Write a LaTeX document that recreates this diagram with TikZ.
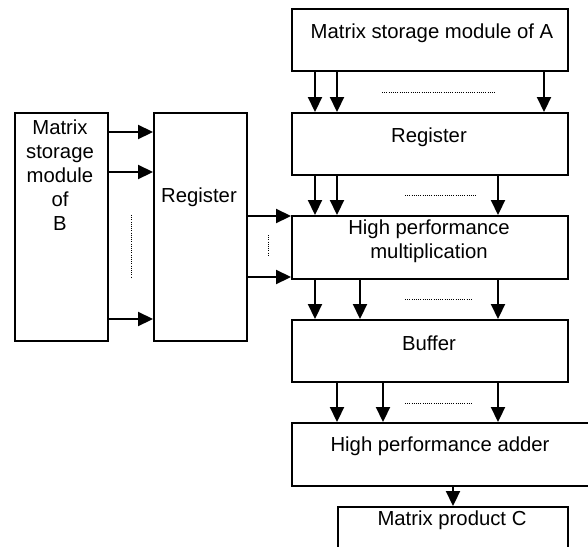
\documentclass[tikz,border=0pt]{standalone}
\usepackage{fontspec}
\setmainfont{Liberation Sans}
\usetikzlibrary{arrows.meta}
\begin{document}
\begin{tikzpicture}[x=1pt,y=-1pt,
  box/.style={draw=black,line width=1.6pt,rectangle,anchor=north west,inner sep=0pt},
  txt/.style={font=\fontsize{20.3}{24}\selectfont,align=center,inner sep=0pt},
  arr/.style={line width=2.2pt,-{Triangle[length=15pt,width=14pt]}},
  dots/.style={line width=1.1pt,dash pattern=on 1pt off 1.2pt}]
\useasboundingbox[fill=white] (0,0) rectangle (588,546);
% right column
\node[box,minimum width=276pt,minimum height=62pt] (A) at (291,8) {};
\node[txt] (At) at (432,33) {Matrix storage module of A};
\node[box,minimum width=276pt,minimum height=62pt] (R1) at (291,112) {};
\node[txt] (R1t) at (429,137) {Register};
\node[box,minimum width=276pt,minimum height=63pt] (M) at (291,215) {};
\node[txt,fill=white,inner ysep=1pt] (Mt) at (429,241) {High performance\\multiplication};
\node[box,minimum width=276pt,minimum height=62pt] (Bu) at (291,319) {};
\node[txt] (Bt) at (429,343) {Buffer};
\node[box,minimum width=320pt,minimum height=63pt] (Ad) at (291,422) {};
\node[txt] (Adt) at (440,446) {High performance adder};
\node[box,minimum width=230pt,minimum height=60pt] (C) at (337,506) {};
\node[txt] (Ct) at (452,520) {Matrix product C};
% left column
\node[box,minimum width=93pt,minimum height=228pt] (B) at (14,112) {};
\node[txt] (Btx) at (60,175) {Matrix\\storage\\module\\of\\B};
\node[box,minimum width=93pt,minimum height=228pt] (R2) at (153,112) {};
\node[txt] (R2t) at (199,197) {Register};
% A -> R1
\foreach \dx in {24,46,253}
  \draw[arr] ([xshift=\dx pt]A.south west) -- ([xshift=\dx pt]R1.north west);
\draw[dots] ([xshift=91pt,yshift=-21pt]A.south west) -- ([xshift=204pt,yshift=-21pt]A.south west);
% R1 -> M
\foreach \dx in {24,46,207}
  \draw[arr] ([xshift=\dx pt]R1.south west) -- ([xshift=\dx pt]M.north west);
\draw[dots] ([xshift=114pt,yshift=-20pt]R1.south west) -- ([xshift=186pt,yshift=-20pt]R1.south west);
% M -> Bu
\foreach \dx in {24,69,207}
  \draw[arr] ([xshift=\dx pt]M.south west) -- ([xshift=\dx pt]Bu.north west);
\draw[dots] ([xshift=114pt,yshift=-20pt]M.south west) -- ([xshift=182pt,yshift=-20pt]M.south west);
% Bu -> Ad
\foreach \dx in {46,92,207}
  \draw[arr] ([xshift=\dx pt]Bu.south west) -- ([xshift=\dx pt]Ad.north west);
\draw[dots] ([xshift=114pt,yshift=-21pt]Bu.south west) -- ([xshift=182pt,yshift=-21pt]Bu.south west);
% Ad -> C
\draw[arr] ([xshift=116pt]C.north west |- Ad.south) -- ([xshift=116pt]C.north west);
% B -> R2
\foreach \dy in {20,60,207}
  \draw[arr] ([yshift=-\dy pt]B.north east) -- ([yshift=-\dy pt]R2.north west);
\draw[dots] ([xshift=23pt,yshift=-103pt]B.north east) -- ([xshift=23pt,yshift=-166pt]B.north east);
% R2 -> M
\draw[arr] (R2.east |- {(0,216)}) -- (M.west |- {(0,216)});
\draw[arr] (R2.east |- {(0,277)}) -- (M.west |- {(0,277)});
\draw[dots] ([xshift=21pt,yshift=-123pt]R2.north east) -- ([xshift=21pt,yshift=-145pt]R2.north east);
\end{tikzpicture}
\end{document}
